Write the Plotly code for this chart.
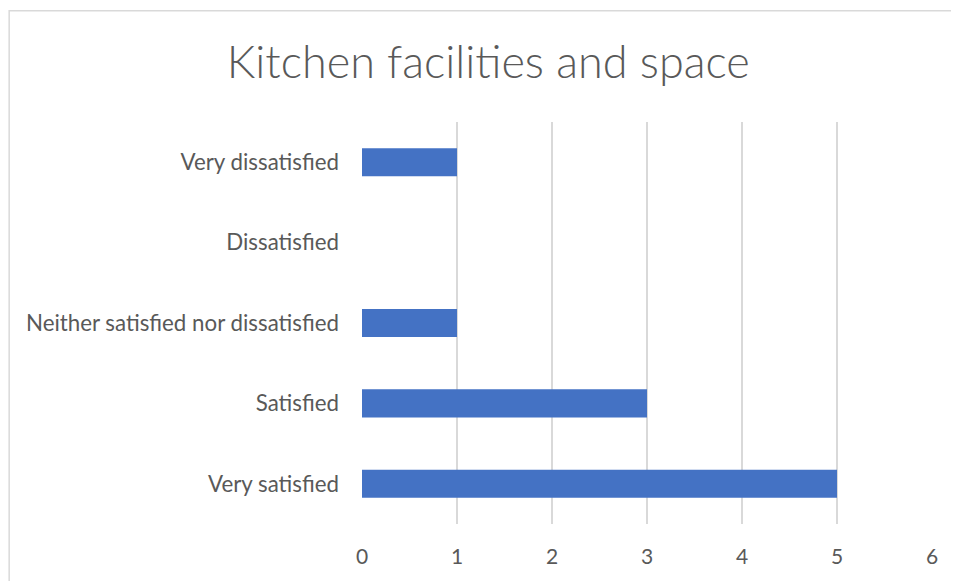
import plotly.graph_objects as go

# survey answers, bottom to top as drawn
categories = ['Very satisfied', 'Satisfied', 'Neither satisfied nor dissatisfied',
              'Dissatisfied', 'Very dissatisfied']
counts = [5, 3, 1, 0, 1]
x_ticks = [0, 1, 2, 3, 4, 5, 6]

fig = go.Figure()
fig.add_trace(go.Bar(
    x=counts, y=categories, orientation='h',
    marker=dict(color='#4472C4', line=dict(width=0)),
    width=0.35,
))

# light grey frame round the chart (only top/left edges are visible)
fig.add_shape(type='rect', xref='paper', yref='paper',
              x0=-0.619, x1=1.2, y0=-0.3, y1=1.277,
              line=dict(color='#d9d9d9', width=1.5), layer='below')

# page body has an 8px default margin, so the figure is 8px smaller
fig.update_layout(
    width=951, height=573,
    margin=dict(l=354, r=27, t=114, b=57),
    paper_bgcolor='white', plot_bgcolor='white',
    title=dict(text='Kitchen facilities and space', x=0.505, xanchor='center',
               y=0.905, yanchor='middle',
               font=dict(family='Lato', size=45, color='#595959', weight=300)),
    font=dict(family='Lato', color='#595959', size=21),
    showlegend=False,
)
fig.update_xaxes(range=[0, 6], tickvals=x_ticks, showgrid=True, gridcolor='#d9d9d9',
                 gridwidth=1.5, zeroline=False, showline=False,
                 ticklabelstandoff=18, tickfont=dict(size=21))
fig.update_yaxes(categoryorder='array', categoryarray=categories, showgrid=False,
                 showline=False, ticklabelstandoff=22, tickfont=dict(size=22.3))

fig.write_html("out.html")
